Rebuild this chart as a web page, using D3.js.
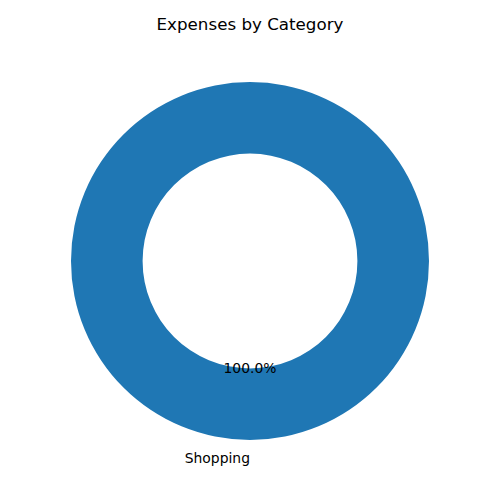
<!DOCTYPE html>
<html>
<head>
<meta charset="utf-8">
<script src="https://cdn.jsdelivr.net/npm/d3@7"></script>
<style>
  body { margin: 0; background: #fff; }
  svg { display: block; font-family: 'DejaVu Sans', sans-serif; }
</style>
</head>
<body>
<svg></svg>
<script>
'use strict';

const categories = ['Shopping'];
const amounts = [100];
const colors = ['#1f77b4'];

const svgWidth = 500;
const svgHeight = 500;
const cx = 250;
const cy = 261;
const outerR = 179;
const innerR = outerR * 0.6;

const svg = d3.select('svg')
  .attr('width', svgWidth)
  .attr('height', svgHeight);

const data = categories.map((c, i) => ({ name: c, val: amounts[i] }));
const total = d3.sum(amounts);

// matplotlib style: start at top, go counterclockwise
const pie = d3.pie()
  .sort(null)
  .value(d => d.val)
  .startAngle(0)
  .endAngle(-2 * Math.PI);

const arcs = pie(data);

const arcGen = d3.arc()
  .innerRadius(innerR)
  .outerRadius(outerR);

const g = svg.append('g')
  .attr('transform', `translate(${cx}, ${cy})`);

g.selectAll('path')
  .data(arcs)
  .join('path')
  .attr('fill', (d, i) => colors[i % colors.length])
  .attr('d', arcGen);

const mid = d => (d.startAngle + d.endAngle) / 2;
// round away float noise so a label straight below counts as left side
const side = d => Math.round(Math.sin(mid(d)) * 1e6);

// category labels
g.selectAll('text.label')
  .data(arcs)
  .join('text')
  .attr('class', 'label')
  .attr('x', d => Math.sin(mid(d)) * outerR * 1.1)
  .attr('y', d => -Math.cos(mid(d)) * outerR * 1.1)
  .attr('text-anchor', d => side(d) > 0 ? 'start' : 'end')
  .attr('dominant-baseline', 'central')
  .attr('font-size', '13.9px')
  .text(d => d.data.name);

// percentages
g.selectAll('text.pct')
  .data(arcs)
  .join('text')
  .attr('class', 'pct')
  .attr('x', d => Math.sin(mid(d)) * outerR * 0.6)
  .attr('y', d => -Math.cos(mid(d)) * outerR * 0.6)
  .attr('text-anchor', 'middle')
  .attr('dominant-baseline', 'central')
  .attr('font-size', '13.9px')
  .text(d => d3.format('.1f')(d.data.val / total * 100) + '%');

// title
svg.append('text')
  .attr('x', svgWidth / 2)
  .attr('y', 30)
  .attr('text-anchor', 'middle')
  .attr('font-size', '16.7px')
  .text('Expenses by Category');
</script>
</body>
</html>
